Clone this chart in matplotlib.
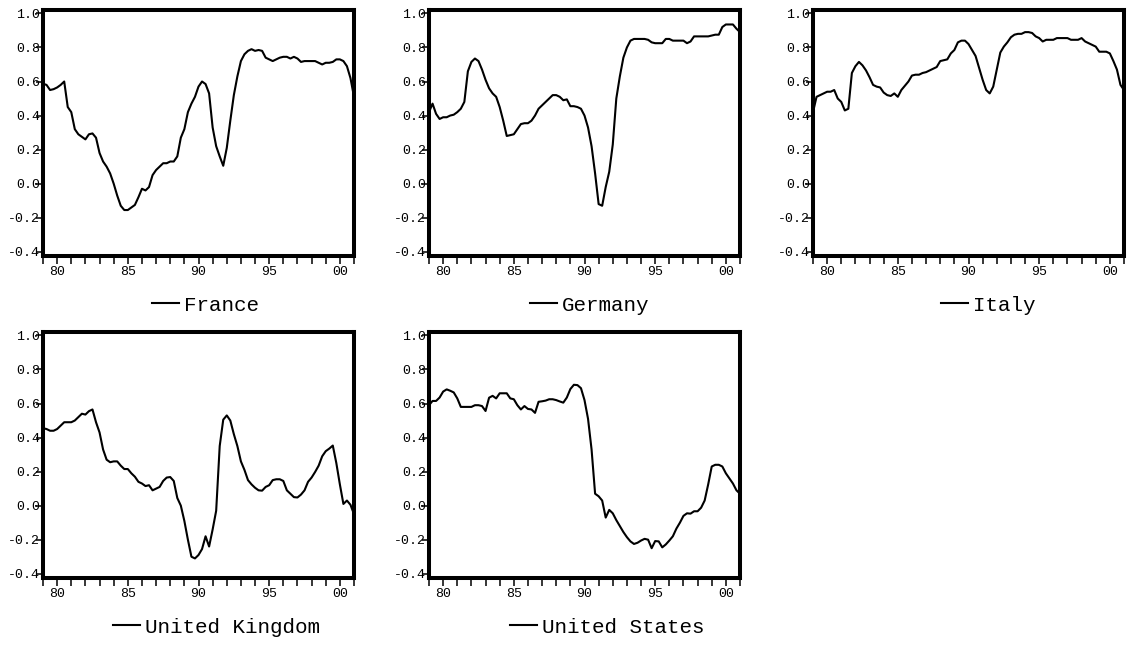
import matplotlib
matplotlib.use("Agg")
from matplotlib import pyplot as plt
import numpy as np

# quarterly observations, 1979Q1 onwards
france = [0.587, 0.58, 0.55, 0.555, 0.565, 0.58, 0.60, 0.45, 0.42, 0.32,
          0.29, 0.275, 0.26, 0.29, 0.295, 0.27, 0.18, 0.13, 0.10, 0.06,
          0.0, -0.07, -0.13, -0.155, -0.155, -0.14, -0.125, -0.08, -0.03, -0.04,
          -0.02, 0.05, 0.08, 0.10, 0.12, 0.12, 0.13, 0.13, 0.16, 0.27,
          0.32, 0.42, 0.47, 0.51, 0.57, 0.60, 0.585, 0.53, 0.33, 0.22,
          0.16, 0.105, 0.21, 0.37, 0.52, 0.63, 0.72, 0.76, 0.78, 0.79,
          0.78, 0.785, 0.78, 0.74, 0.73, 0.72, 0.73, 0.74, 0.745, 0.745,
          0.735, 0.745, 0.735, 0.715, 0.72, 0.72, 0.72, 0.72, 0.71, 0.70,
          0.71, 0.71, 0.715, 0.73, 0.73, 0.72, 0.69, 0.62, 0.51]

germany = [0.42, 0.47, 0.41, 0.38, 0.39, 0.39, 0.40, 0.405, 0.42, 0.44,
           0.48, 0.66, 0.715, 0.735, 0.72, 0.67, 0.61, 0.56, 0.53, 0.51,
           0.45, 0.37, 0.28, 0.285, 0.29, 0.32, 0.35, 0.355, 0.355, 0.37,
           0.40, 0.44, 0.46, 0.48, 0.50, 0.52, 0.52, 0.51, 0.49, 0.495,
           0.455, 0.455, 0.45, 0.44, 0.40, 0.33, 0.22, 0.06, -0.12, -0.13,
           -0.02, 0.07, 0.23, 0.50, 0.63, 0.74, 0.80, 0.84, 0.85, 0.85,
           0.85, 0.85, 0.845, 0.83, 0.825, 0.825, 0.825, 0.85, 0.85, 0.84,
           0.84, 0.84, 0.84, 0.825, 0.835, 0.865, 0.865, 0.865, 0.865, 0.865,
           0.87, 0.875, 0.875, 0.92, 0.935, 0.935, 0.935, 0.91, 0.89]

italy = [0.42, 0.51, 0.52, 0.53, 0.54, 0.54, 0.55, 0.50, 0.48, 0.43,
         0.44, 0.65, 0.69, 0.715, 0.695, 0.665, 0.625, 0.58, 0.57, 0.565,
         0.535, 0.52, 0.515, 0.53, 0.51, 0.55, 0.575, 0.60, 0.635, 0.64,
         0.64, 0.65, 0.655, 0.665, 0.675, 0.685, 0.72, 0.725, 0.73, 0.765,
         0.785, 0.83, 0.84, 0.84, 0.82, 0.785, 0.75, 0.68, 0.61, 0.55,
         0.53, 0.57, 0.67, 0.77, 0.805, 0.83, 0.86, 0.875, 0.88, 0.88,
         0.89, 0.89, 0.885, 0.865, 0.855, 0.835, 0.845, 0.845, 0.845, 0.855,
         0.855, 0.855, 0.855, 0.845, 0.845, 0.845, 0.855, 0.835, 0.825, 0.815,
         0.805, 0.775, 0.775, 0.775, 0.765, 0.72, 0.67, 0.58, 0.55]

uk = [0.455, 0.45, 0.44, 0.44, 0.45, 0.47, 0.49, 0.49, 0.49, 0.50,
      0.52, 0.54, 0.535, 0.555, 0.565, 0.49, 0.43, 0.33, 0.27, 0.255,
      0.26, 0.26, 0.235, 0.215, 0.215, 0.19, 0.17, 0.14, 0.13, 0.115,
      0.12, 0.09, 0.10, 0.11, 0.145, 0.165, 0.168, 0.145, 0.045, 0.0,
      -0.09, -0.20, -0.30, -0.31, -0.29, -0.255, -0.18, -0.24, -0.14, -0.03,
      0.35, 0.505, 0.53, 0.50, 0.42, 0.35, 0.26, 0.21, 0.15, 0.125,
      0.105, 0.09, 0.088, 0.11, 0.12, 0.15, 0.155, 0.155, 0.145, 0.09,
      0.07, 0.05, 0.048, 0.065, 0.09, 0.14, 0.165, 0.198, 0.235, 0.29,
      0.32, 0.335, 0.353, 0.25, 0.125, 0.01, 0.03, 0.005, -0.05]

us = [0.59, 0.615, 0.615, 0.635, 0.67, 0.683, 0.675, 0.665, 0.63, 0.58,
      0.58, 0.58, 0.58, 0.59, 0.59, 0.585, 0.556, 0.634, 0.645, 0.63,
      0.66, 0.66, 0.66, 0.63, 0.625, 0.59, 0.565, 0.585, 0.568, 0.565,
      0.545, 0.61, 0.613, 0.617, 0.625, 0.625, 0.62, 0.612, 0.605, 0.635,
      0.685, 0.71, 0.708, 0.69, 0.62, 0.51, 0.33, 0.07, 0.055, 0.03,
      -0.07, -0.025, -0.045, -0.085, -0.12, -0.155, -0.185, -0.21, -0.225, -0.218,
      -0.205, -0.195, -0.20, -0.25, -0.208, -0.21, -0.245, -0.228, -0.205, -0.18,
      -0.135, -0.10, -0.06, -0.045, -0.047, -0.033, -0.033, -0.012, 0.03, 0.125,
      0.23, 0.24, 0.24, 0.23, 0.19, 0.16, 0.13, 0.09, 0.07]

countries = ["France", "Germany", "Italy", "United Kingdom", "United States"]
series = [france, germany, italy, uk, us]

year_ticks = list(range(1979, 2002))
year_labels = {1980: "80", 1985: "85", 1990: "90", 1995: "95", 2000: "00"}
y_ticks = [-0.4, -0.2, 0.0, 0.2, 0.4, 0.6, 0.8, 1.0]

plt.rcParams["font.family"] = ["Liberation Mono", "DejaVu Sans Mono"]

fig = plt.figure(figsize=(11.27, 6.45), dpi=100)

# panel boxes in pixels (eviews-ish grid, 3 + 2)
W, H = 1127, 645
lefts = [43, 429, 813, 43, 429]
tops = [10, 10, 10, 332, 332]
aw, ah = 311, 246
leg_x = [0.522, 0.516, 0.564, 0.558, 0.574]

for i, (name, vals) in enumerate(zip(countries, series)):
    ax = fig.add_axes([lefts[i] / W, 1 - (tops[i] + ah) / H, aw / W, ah / H])
    dates = 1979 + np.arange(len(vals)) / 4
    ax.plot(dates, vals, color="black", lw=1.5, label=name)
    ax.set_xlim(1979, 2001)
    ax.set_ylim(-0.425, 1.02)
    ax.set_xticks(year_ticks)
    ax.set_xticklabels([year_labels.get(y, "") for y in year_ticks])
    ax.set_yticks(y_ticks)
    ax.set_yticklabels([f"{v:.1f}" for v in y_ticks])
    for sp in ax.spines.values():
        sp.set_linewidth(2.9)
        sp.set_color("black")
    ax.tick_params(axis="x", direction="out", length=6, width=1.1, pad=1, labelsize=9.5)
    ax.tick_params(axis="y", direction="out", length=5, width=1.1, pad=-3, labelsize=9.5)
    ax.legend(loc="center", bbox_to_anchor=(leg_x[i], -0.2), frameon=False,
              handlelength=1.3, handletextpad=0.25, fontsize=15)

fig.savefig("out.png", dpi=100)
